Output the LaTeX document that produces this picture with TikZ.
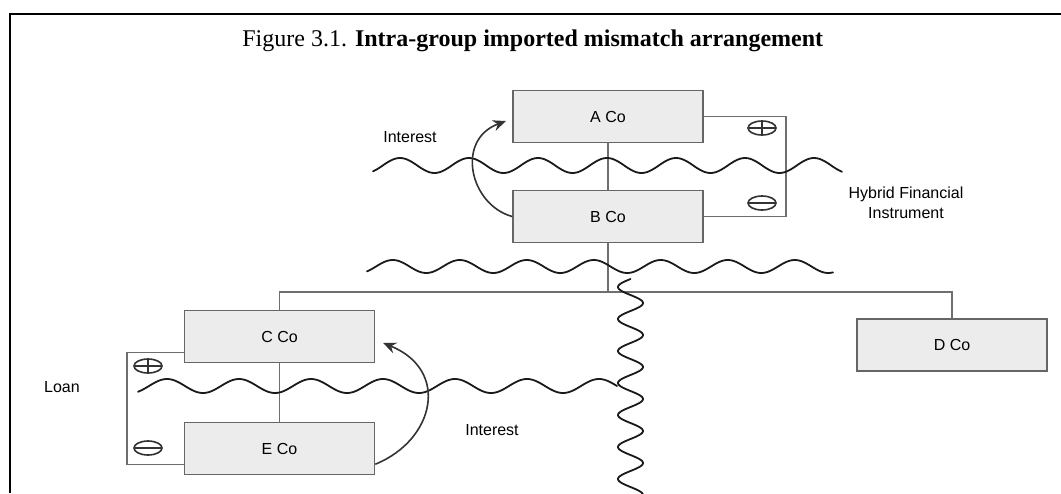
\documentclass[tikz,border=0pt]{standalone}
\usepackage{fontspec}
\setmainfont{Liberation Serif}
\newfontfamily\labfont{Liberation Sans}
\usetikzlibrary{calc,shapes.geometric,arrows.meta}
\definecolor{boxline}{HTML}{666666}
\definecolor{boxfill}{HTML}{ECECEC}
\definecolor{connline}{HTML}{6E6E6E}
\definecolor{waveline}{HTML}{1A1A1A}
\definecolor{arrline}{HTML}{333333}
\begin{document}
\begin{tikzpicture}[x=0.5pt,y=-0.5pt,
  box/.style={draw=boxline, fill=boxfill, line width=0.75pt, minimum width=95pt,
    minimum height=26pt, inner sep=0pt, font=\labfont\fontsize{8}{9.6}\selectfont},
  lbl/.style={inner sep=0pt, font=\labfont\fontsize{8}{10}\selectfont},
  conn/.style={draw=connline, line width=0.75pt},
  wave/.style={draw=waveline, line width=0.9pt, line join=round, line cap=round},
  arr/.style={draw=arrline, line width=0.8pt, -{Stealth[length=6.5pt,width=5.5pt]}},
  signbase/.style={ellipse, draw=arrline, line width=0.8pt, minimum width=14pt,
    minimum height=7pt, inner sep=0pt},
  signplus/.style={signbase, path picture={\draw[arrline, line width=0.8pt]
    (path picture bounding box.west) -- (path picture bounding box.east)
    (path picture bounding box.north) -- (path picture bounding box.south);}},
  signminus/.style={signbase, path picture={\draw[arrline, line width=0.8pt]
    (path picture bounding box.west) -- (path picture bounding box.east);}}]
\useasboundingbox (0,0) rectangle (1061,493);
\fill[white] (0,0) rectangle (1061,493);
% frame
\draw[black, line width=1.25pt] (10,493) -- (10,14) -- (1061,14);
% title
\node[inner sep=0pt, anchor=base west, font=\fontsize{12}{14}\selectfont] (title) at (242,46)
  {Figure 3.1. \textbf{Intra-group imported mismatch arrangement}};
% boxes
\node[box] (A) at (608,116.5) {A Co};
\node[box] (B) at (608,216.5) {B Co};
\node[box] (C) at (279.5,336.5) {C Co};
\node[box] (E) at (279.5,448.5) {E Co};
\node[box] (D) at (952,345) {D Co};
% connectors
\draw[conn] (A.south) -- (B.north);
\draw[conn] (C.south) -- (E.north);
\coordinate (busL) at (279.5,292);
\draw[conn] (C.north) -- (busL) -| (D.north);
\draw[conn] (B.south) -- (B.south |- busL);
\draw[conn] (A.east) -- ++(82,0) |- (B.east);
\draw[conn] ($(C.south west)+(0,-11)$) -- ++(-57,0) |- ($(E.south west)+(0,-11)$);
% signs
\node[signplus] (pA) at (762,128) {};
\node[signminus] (mB) at (762,203) {};
\node[signplus] (pC) at (148,366) {};
\node[signminus] (mE) at (148,448) {};
% waves
\draw[wave] plot[domain=373:842, samples=240, smooth] (\x, {165.5 - 7.5*sin(5.2174*(\x-382.75))});
\draw[wave] plot[domain=367:833, samples=240, smooth] (\x, {266.5 - 6.5*sin(5.3731*(\x-376))});
\draw[wave] plot[domain=138:617, samples=240, smooth] (\x, {386 - 7*sin(5*(\x-149))});
\draw[wave] plot[domain=279:500, samples=240, smooth] ({630.5 + 12.5*sin(11.25*(\x-295))}, \x);
% curved arrows
\coordinate (tipA) at (506,121);
\coordinate (tipC) at (383,343);
\draw[arr] (B.west) .. controls (470,205) and (455,140) .. (tipA);
\draw[arr] ($(E.south east)+(0,-11)$) .. controls (435,440) and (450,370) .. (tipC);
% labels
\node[lbl] (int1) at (410,137) {Interest};
\node[lbl] (int2) at (492,430) {Interest};
\node[lbl] (loan) at (62,387) {Loan};
\node[lbl, align=center] (hfi) at (906,203) {Hybrid Financial\\Instrument};
\end{tikzpicture}
\end{document}
